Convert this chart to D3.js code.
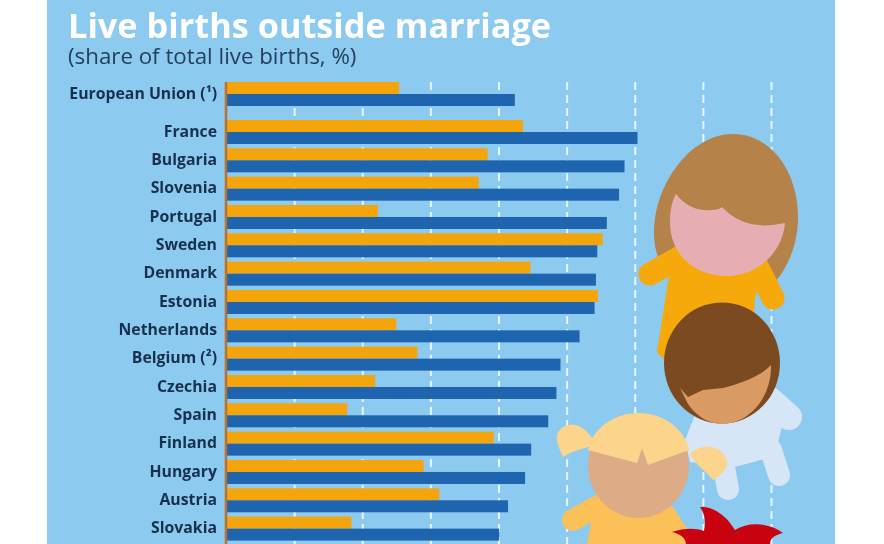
<!DOCTYPE html>
<html>
<head>
<meta charset="utf-8">
<script src="https://cdn.jsdelivr.net/npm/d3@7"></script>
<style>
  html, body { margin: 0; padding: 0; background: #fff; overflow: hidden; }
  svg { display: block; filter: blur(0.45px); }
  text { font-family: "Open Sans", "Noto Sans", sans-serif; }
</style>
</head>
<body>
<div id="chart"></div>
<script>
// Valores (%)
var categories = ["European Union (¹)", "France", "Bulgaria", "Slovenia", "Portugal", "Sweden", "Denmark", "Estonia",
    "Netherlands", "Belgium (²)", "Czechia", "Spain", "Finland", "Hungary", "Austria", "Slovakia"];
var seriesOrange = [25.4, 43.6, 38.4, 37.1, 22.3, 55.3, 44.7, 54.6, 25.0, 28.1, 21.9, 17.8, 39.3, 29.0, 31.3, 18.4];
var seriesBlue = [42.4, 60.4, 58.5, 57.7, 55.9, 54.5, 54.3, 54.1, 51.9, 49.1, 48.5, 47.3, 44.8, 43.9, 41.4, 40.1];
var gridTicks = [10, 20, 30, 40, 50, 60, 70, 80];

var width = 884, height = 544;

var svg = d3.select("#chart").append("svg")
    .attr("width", width)
    .attr("height", height);

// Panel azul de fondo
svg.append("rect")
    .attr("x", 47).attr("y", 0)
    .attr("width", 788).attr("height", height)
    .attr("fill", "#8dcaef");

// Escalas
var x = d3.scaleLinear().domain([0, 80]).range([226, 771]);

// La fila de la UE va separada del resto
var y = d3.scaleBand()
    .domain(categories.slice(1))
    .range([120, 120 + 15 * 28.33]);
var barH = 12;

function filaY(d) {
    return d === categories[0] ? 82 : y(d);
}

// Rejilla
var grid = svg.append("g")
    .attr("transform", "translate(0,82)")
    .call(d3.axisTop(x)
        .tickValues(gridTicks)
        .tickSize(-(height - 82))
        .tickFormat(""));
grid.select(".domain").remove();
grid.selectAll("line")
    .attr("stroke", "#e6f5fb")
    .attr("stroke-width", 2)
    .attr("stroke-dasharray", "8,5");

// Barras naranjas
svg.selectAll(".barOrange")
    .data(categories)
    .enter().append("rect")
    .attr("class", "barOrange")
    .attr("x", x(0))
    .attr("y", function (d) { return filaY(d); })
    .attr("width", function (d, i) { return x(seriesOrange[i]) - x(0); })
    .attr("height", barH)
    .attr("fill", "#f5a50c");

// Barras azules
svg.selectAll(".barBlue")
    .data(categories)
    .enter().append("rect")
    .attr("class", "barBlue")
    .attr("x", x(0))
    .attr("y", function (d) { return filaY(d) + barH; })
    .attr("width", function (d, i) { return x(seriesBlue[i]) - x(0); })
    .attr("height", barH)
    .attr("fill", "#1f64ae");

// Eje vertical
svg.append("line")
    .attr("x1", x(0)).attr("x2", x(0))
    .attr("y1", 82).attr("y2", height)
    .attr("stroke", "#b9712f")
    .attr("stroke-width", 2.5);

// Etiquetas
svg.selectAll(".label")
    .data(categories)
    .enter().append("text")
    .attr("class", "label")
    .attr("x", 217)
    .attr("y", function (d) { return filaY(d) + 11; })
    .attr("dy", "0.36em")
    .attr("text-anchor", "end")
    .attr("font-weight", 700)
    .attr("font-size", "15.8px")
    .attr("fill", "#17304d")
    .text(function (d) { return d; });

// Titulos
svg.append("text")
    .attr("x", 68).attr("y", 38)
    .attr("font-weight", 700)
    .attr("font-size", "34.3px")
    .attr("fill", "#fff")
    .text("Live births outside marriage");

svg.append("text")
    .attr("x", 68).attr("y", 64)
    .attr("font-size", "22.3px")
    .attr("fill", "#24405f")
    .text("(share of total live births, %)");

// Dibujos de los ninos
var dibujo = svg.append("g");

function forma(path, color) {
    dibujo.append("path").attr("d", path).attr("fill", color);
}
function brazo(x1, y1, x2, y2, w, color) {
    dibujo.append("line")
        .attr("x1", x1).attr("y1", y1).attr("x2", x2).attr("y2", y2)
        .attr("stroke", color)
        .attr("stroke-width", w)
        .attr("stroke-linecap", "round");
}

// Nina pelo castano
forma("M733,134 C690,134 654,185 654,232 C654,245 656,252 660,262 L775,282 C790,265 798,240 798,218 C798,170 770,134 733,134 Z", "#b5824a");
brazo(650, 274, 682, 256, 23, "#f6a90a");
brazo(758, 268, 773, 298, 23, "#f6a90a");
forma("M676,246 L765,262 L755,298 L752,345 L700,400 L657,352 L668,282 Z", "#f6a90a");
forma("M676,194 Q690,212 712,210 Q719,210 722,207 Q745,232 785,223 C782,255 755,276 727,276 C695,276 670,255 670,222 C670,210 672,201 676,194 Z", "#e6aeb2");

// Nino pelo oscuro
brazo(770, 400, 789, 417, 26, "#d6e6f6");
brazo(723, 462, 728, 489, 22, "#d6e6f6");
brazo(771, 450, 779, 475, 22, "#d6e6f6");
forma("M695,415 L770,395 L782,425 L775,456 L735,467 L690,462 L685,440 Z", "#d6e6f6");
dibujo.append("ellipse")
    .attr("cx", 722).attr("cy", 363).attr("rx", 58).attr("ry", 60.5)
    .attr("fill", "#7b4a20");
forma("M771,365 C762,375 745,382 723,388 L703,390 L688,397 L680,388 L688,404 C698,418 710,424 722,424 C750,424 772,396 771,365 Z", "#d99a64");

// Nina rubia
forma("M596,497 L673,507 L697,544 L587,544 Z", "#fbc158");
brazo(573, 520, 600, 505, 22, "#fbc158");
dibujo.append("ellipse")
    .attr("cx", 638.5).attr("cy", 465.5).attr("rx", 50.5).attr("ry", 52.5)
    .attr("fill", "#ddac86");
forma("M588,450 C592,428 615,413 638,413 C665,413 685,430 689,450 L648,465 L642,448 L637,463 Z", "#fdd48c");
forma("M595,442 C585,426 575,423 568,425 C560,427 556,433 557,440 C558,447 561,452 563,457 C575,450 585,448 595,445 Z", "#fdd48c");
forma("M690,453 C698,447 708,445 715,448 C722,451 727,456 727,464 C727,470 719,476 713,480 C705,470 695,465 690,453 Z", "#fdd48c");

// Pelo rojo
forma("M672,532 C685,528 695,528 704,531 C706,522 705,514 700,507 C715,506 728,518 735,530 C748,522 768,522 783,533 C775,535 770,538 770,544 L686,544 C686,538 680,534 672,532 Z", "#c8020f");
</script>
</body>
</html>
